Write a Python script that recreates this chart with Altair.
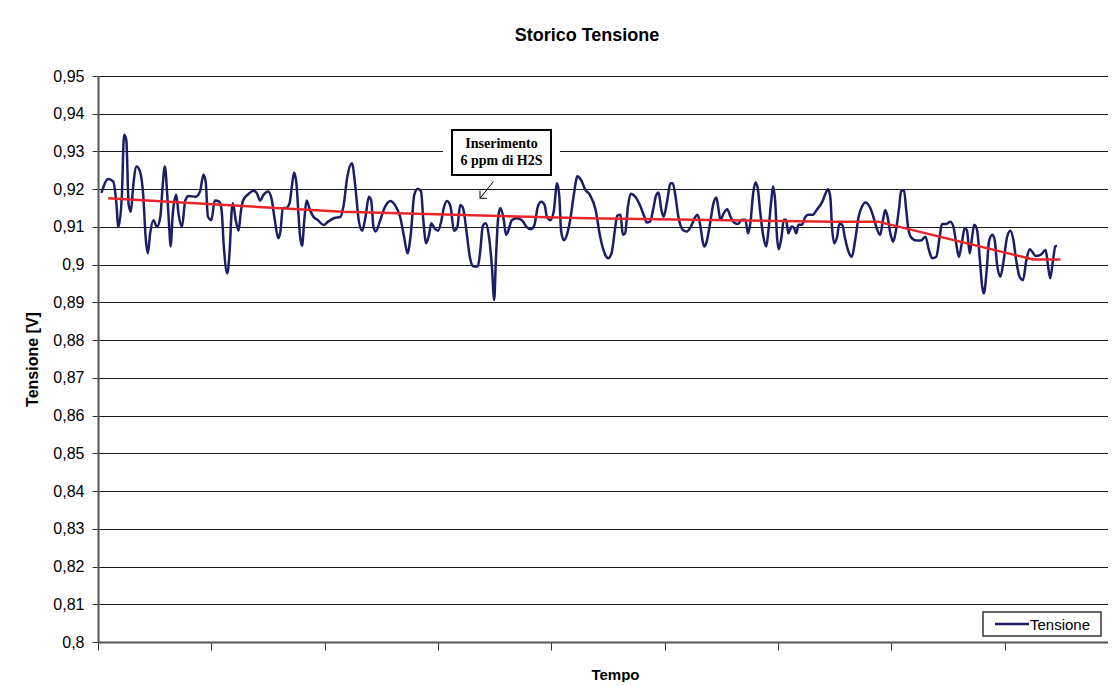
import altair as alt
import pandas as pd

# ---- data (time in axis units: one tick = 100) ----
t_tensione = [
    3, 9, 13.5, 16, 18, 21, 23, 25, 27, 29, 31, 34, 37, 40, 42, 44, 46, 49, 52, 55,
    57, 59, 61, 63, 64, 66, 69, 71, 74, 77, 80, 86, 90, 93, 95, 97, 100, 103, 107, 109,
    111, 114, 116, 118, 119, 121.5, 124, 126, 128, 133, 137, 140, 143, 146, 150, 153, 156, 159, 161, 163,
    166, 169, 171, 173, 175, 177, 178, 180, 182, 184, 187, 190, 194, 199, 203, 208, 214,
    216.5, 220, 224, 227, 230, 233, 236, 239, 241, 243, 245, 249, 253, 258, 262, 266.5, 270, 273, 276, 279,
    282, 285, 287, 289.5, 292, 294, 297, 300, 303, 305, 308, 311, 314, 317, 319.5, 322, 325, 328, 331, 335,
    337, 339.5, 342, 344.5, 347.5, 349.5, 351, 353, 355, 358, 360, 362, 365, 369.5, 374, 378, 382, 385, 388, 391,
    394, 396, 399, 402, 405, 407, 408.5, 411, 414, 417, 419.5, 423, 426, 430,
    434, 439, 443, 447.5, 450, 453, 456, 458, 461, 463, 465, 467.5, 470, 474, 478, 482, 484, 487, 490, 492,
    494.5, 497, 499, 502, 505, 507, 509, 512, 516, 519.5, 523, 527, 529, 531.5, 533.5, 535, 537, 540, 543, 545.5,
    547.5, 549, 552, 555, 558, 561, 564.5, 568, 571, 573.5, 575.5, 578, 580, 582, 584, 587, 589.5, 591.5, 594, 595.5,
    597.5, 599, 600.5, 603, 605, 607, 609, 612, 614, 616, 618, 621, 624, 627, 630.5, 634, 639, 642, 644, 646,
    647.5, 649.5, 652, 654, 656.5, 659, 662, 665, 668, 671, 674, 677, 681, 684, 687, 690, 692.5, 694.5, 696.5, 699,
    701.5, 703.5, 706.5, 708.5, 711, 713, 715, 718, 722, 726, 730, 733, 736, 739.5, 742.5, 744.5, 748.5, 752, 755, 757.5,
    759.5, 762.5, 764.5, 766.5, 769, 771, 773, 775.5, 778, 780, 781.5, 784, 786, 789, 791, 793, 796, 799, 802, 805,
    807.5, 810, 813, 816, 819, 822, 824, 827, 831.5, 836, 838, 840, 842.5, 844.5, 846,
]
v_tensione = [
    0.919, 0.9227, 0.922, 0.917, 0.910, 0.918, 0.9344, 0.933, 0.916, 0.914,
    0.9207, 0.926, 0.9247, 0.918, 0.9074, 0.903, 0.9083, 0.9118, 0.910, 0.9127,
    0.9207, 0.926, 0.919, 0.909, 0.9048, 0.9136, 0.9185, 0.9136, 0.910, 0.917,
    0.9182, 0.918, 0.9194, 0.9238, 0.922, 0.9127, 0.9118, 0.917, 0.9167, 0.9145,
    0.9048, 0.8977, 0.903, 0.9145, 0.9163, 0.9118, 0.909, 0.914, 0.917, 0.9188,
    0.9196, 0.919, 0.917, 0.9185, 0.9194, 0.9176, 0.9118, 0.907, 0.909, 0.915,
    0.915, 0.9163, 0.9207, 0.9244, 0.9216, 0.9127, 0.9083, 0.905, 0.9118, 0.917,
    0.9145, 0.9127, 0.9118, 0.9105, 0.9114, 0.9123, 0.9127,
    0.9154, 0.9234, 0.9269, 0.9207, 0.9118, 0.909, 0.9127, 0.918, 0.917, 0.910,
    0.9088, 0.9118, 0.9152, 0.9169, 0.9158, 0.9127, 0.9074, 0.903, 0.9083, 0.9185,
    0.9201, 0.9194, 0.9118, 0.9057, 0.9079, 0.911, 0.9096, 0.909, 0.9118, 0.915,
    0.9169, 0.9154, 0.909, 0.910, 0.9158, 0.915, 0.909, 0.9021, 0.8996, 0.8995,
    0.903, 0.9103, 0.911, 0.9083, 0.8995, 0.8906, 0.9012, 0.9123, 0.915, 0.9118,
    0.9079, 0.909, 0.9118, 0.9123, 0.9118, 0.910, 0.9094, 0.9105, 0.9154, 0.9167,
    0.9158, 0.9127, 0.9118, 0.914, 0.9216, 0.918, 0.909, 0.9065, 0.9083, 0.9127,
    0.918, 0.9234, 0.9225, 0.9198,
    0.9185, 0.9145, 0.9074, 0.9026, 0.9017, 0.903, 0.9092, 0.913, 0.9132, 0.9079,
    0.9083, 0.9154, 0.9188, 0.918, 0.9158, 0.9127, 0.9112, 0.9114, 0.915, 0.918,
    0.9191, 0.9145, 0.9127, 0.9167, 0.9216, 0.9216, 0.919, 0.9127, 0.9092, 0.9088,
    0.9101, 0.9127, 0.9132, 0.9101, 0.9061, 0.9048, 0.9061, 0.911, 0.9163, 0.9178,
    0.9145, 0.9119, 0.9136, 0.9147, 0.9127, 0.9112, 0.9108, 0.9119, 0.9119, 0.9083,
    0.911, 0.919, 0.9218, 0.9203, 0.9145, 0.9074, 0.9048, 0.9092, 0.9172, 0.9207,
    0.9163, 0.9074, 0.9041, 0.9074, 0.9119, 0.9119, 0.9083, 0.9101, 0.9097, 0.9083,
    0.9106, 0.9106, 0.9127, 0.9132, 0.9132, 0.9145, 0.9167, 0.919, 0.920, 0.918,
    0.9101, 0.9057, 0.9074, 0.9108, 0.9106, 0.907, 0.9035, 0.9021, 0.9066, 0.9127,
    0.9154, 0.9165, 0.9152, 0.9127, 0.9096, 0.9079, 0.9119, 0.9145, 0.9127, 0.9083,
    0.9061, 0.9083, 0.9145, 0.9194, 0.9198, 0.9145, 0.9092, 0.907, 0.9064, 0.9064,
    0.9074, 0.9039, 0.9017, 0.9021, 0.9074, 0.9108, 0.9108, 0.9114, 0.9096, 0.9048,
    0.9021, 0.9066, 0.9096, 0.9092, 0.903, 0.907, 0.9106, 0.9092, 0.9012, 0.8942,
    0.8924, 0.8986, 0.9061, 0.9079, 0.9066, 0.9004, 0.8968, 0.9012, 0.9074, 0.909,
    0.9066, 0.9012, 0.8968, 0.8959, 0.9012, 0.9041, 0.9035, 0.9023, 0.9026, 0.9039,
    0.8999, 0.8964, 0.9012, 0.9048, 0.905,
]

t_trend = [9, 216, 432, 649, 688, 825, 849]
v_trend = [0.9176, 0.914, 0.9123, 0.9114, 0.9114, 0.9014, 0.9014]

x_ticks = [0, 100, 200, 300, 400, 500, 600, 700, 800]
y_ticks = [0.80, 0.81, 0.82, 0.83, 0.84, 0.85, 0.86, 0.87, 0.88, 0.89,
           0.90, 0.91, 0.92, 0.93, 0.94, 0.95]

series_name = "Tensione"
note_lines = ["Inserimento", "6 ppm di H2S"]

df_main = pd.DataFrame({"t": t_tensione, "v": v_tensione, "serie": series_name})
df_trend = pd.DataFrame({"t": t_trend, "v": v_trend})
one = pd.DataFrame({"k": [0]})

FONT = "Liberation Sans"
NAVY = "#1d1d66"
RED = "#e8262a"
W, H = 1010, 566

x_enc = alt.X(
    "t:Q",
    scale=alt.Scale(domain=[0, 891], nice=False, zero=False),
    axis=alt.Axis(
        values=x_ticks, tickCount=20, labels=False, grid=False, tickSize=8,
        tickColor="#333", domainColor="#555", domainWidth=2, title="Tempo",
        titleFont=FONT, titleFontSize=15, titleFontWeight="bold",
        titleColor="black", titleX=517, titleY=37, titleBaseline="alphabetic",
        titleAlign="center",
    ),
)
y_enc = alt.Y(
    "v:Q",
    scale=alt.Scale(domain=[0.8, 0.95], nice=False, zero=False),
    axis=alt.Axis(
        values=y_ticks, tickCount=40, labelOverlap=False, labelFlush=False,
        labelExpr="replace(format(datum.value, '.2~f'), '.', ',')",
        grid=True, gridColor="#1a1a1a", gridWidth=1,
        domainColor="#555", domainWidth=2, tickColor="#333", tickSize=6,
        labelFont=FONT, labelFontSize=16, labelColor="black", labelPadding=8,
        title="Tensione [V]", titleFont=FONT, titleFontSize=16,
        titleFontWeight="bold", titleColor="black", titleAngle=270,
        titleX=-61, titleY=283, titleBaseline="alphabetic", titleAlign="center",
    ),
)

main_line = alt.Chart(df_main).mark_line(
    interpolate="monotone", strokeWidth=2.5, color=NAVY
).encode(x=x_enc, y=y_enc, detail="serie:N")

trend_line = alt.Chart(df_trend).mark_line(color=RED, strokeWidth=2.5).encode(
    x="t:Q", y="v:Q"
)

# annotation box
note_bg = alt.Chart(one).mark_rect(color="white").encode(
    x=alt.value(345), x2=alt.value(462), y=alt.value(50), y2=alt.value(103)
)
note_border = alt.Chart(one).mark_rect(fill="white", stroke="black", strokeWidth=2).encode(
    x=alt.value(354), x2=alt.value(453), y=alt.value(54), y2=alt.value(99)
)
note_text1 = alt.Chart(one).mark_text(
    font="Liberation Serif", fontWeight="bold", fontSize=14, align="center",
    baseline="alphabetic", color="black"
).encode(x=alt.value(403.5), y=alt.value(72), text=alt.value(note_lines[0]))
note_text2 = alt.Chart(one).mark_text(
    font="Liberation Serif", fontWeight="bold", fontSize=14, align="center",
    baseline="alphabetic", color="black"
).encode(x=alt.value(403.5), y=alt.value(89), text=alt.value(note_lines[1]))

arrow_shaft = alt.Chart(one).mark_rule(color="black", strokeWidth=1).encode(
    x=alt.value(395.3), y=alt.value(105.7), x2=alt.value(382), y2=alt.value(122.3)
)
arrow_h = alt.Chart(one).mark_rule(color="black", strokeWidth=1).encode(
    x=alt.value(382), y=alt.value(122.3), x2=alt.value(389), y2=alt.value(122.3)
)
arrow_v = alt.Chart(one).mark_rule(color="black", strokeWidth=1).encode(
    x=alt.value(382), y=alt.value(122.3), x2=alt.value(382), y2=alt.value(114.7)
)

# legend box (bottom right, inside the plot)
legend_box = alt.Chart(one).mark_rect(fill="white", stroke="#333", strokeWidth=1.5).encode(
    x=alt.value(885), x2=alt.value(1003), y=alt.value(536), y2=alt.value(560)
)
legend_line = alt.Chart(one).mark_rule(color=NAVY, strokeWidth=2.5).encode(
    x=alt.value(897), x2=alt.value(931), y=alt.value(548), y2=alt.value(548)
)
legend_text = alt.Chart(one).mark_text(
    font=FONT, fontSize=15, align="left", baseline="middle", color="black"
).encode(x=alt.value(932), y=alt.value(548.5), text=alt.value(series_name))

chart = alt.layer(
    main_line, trend_line, note_bg, note_border, note_text1, note_text2,
    arrow_shaft, arrow_h, arrow_v, legend_box, legend_line, legend_text,
).properties(
    width=W,
    height=H,
    title=alt.TitleParams(
        "Storico Tensione", font=FONT, fontSize=18, fontWeight="bold",
        color="black", anchor="middle", dx=-16, offset=23,
    ),
    autosize=alt.AutoSizeParams(type="none"),
    padding={"left": 90, "top": 68, "right": 0, "bottom": 40},
    background="white",
).configure_view(stroke=None)

chart.save("out.html", embed_options={"renderer": "svg", "actions": False})
